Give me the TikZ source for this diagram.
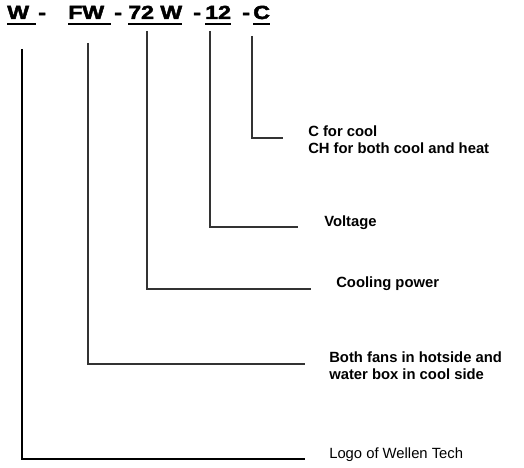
\documentclass[tikz,border=0pt]{standalone}
\usepackage{fontspec}
\setmainfont{Liberation Sans}
\newfontfamily\headfont[FakeStretch=1.22,FakeBold=2.5]{Liberation Sans}
\usetikzlibrary{calc}

\begin{document}
\begin{tikzpicture}[
    x=0.75pt, y=-0.75pt,
    head/.style={
        anchor=base west,
        inner sep=0pt,
        font=\headfont\fontsize{14.2}{16}\selectfont\bfseries
    },
    desc/.style={
        anchor=base west,
        inner sep=0pt,
        align=left,
        font=\fontsize{11.1}{12.75}\selectfont\bfseries
    },
    uline/.style={line width=1.5pt},
    lead/.style={line width=1.1pt, draw=black!80}
]
\useasboundingbox (0,0) rectangle (524,467);

% Code parts
\node[head] (w) at (7,19) {W\ \null};
\node[head] (d1) at (38,19) {-};
\node[head] (fw) at (68,19) {FW\ \null};
\node[head] (d2) at (114,19) {-};
\node[head] (power) at (128,19) {72 W};
\node[head] (d3) at (193,19) {-};
\node[head] (volt) at (205,19) {12};
\node[head] (d4) at (242,19) {-};
\node[head] (mode) at (253,19) {C};

\foreach \part in {w,fw,power,volt,mode}
    \draw[uline] ($(\part.base west)+(0,5)$) -- ($(\part.base east)+(0,5)$);

% Meanings (base = last line)
\node[desc] (mode-txt) at (308,153) {C for cool\\CH for both cool and heat};
\node[desc] (volt-txt) at (324,226) {Voltage};
\node[desc] (power-txt) at (336,287) {Cooling power};
\node[desc] (fw-txt) at (329,379) {Both fans in hotside and\\water box in cool side};
\node[desc,font=\fontsize{11.1}{12.75}\selectfont] (w-txt) at (329,458) {Logo of Wellen Tech};

% Leaders
\coordinate (w-top) at (22,49);
\coordinate (w-end) at (305,459);
\coordinate (fw-top) at (88,43);
\coordinate (fw-end) at (305,364);
\coordinate (power-top) at (147,31);
\coordinate (power-end) at (311,289);
\coordinate (volt-top) at (210,31);
\coordinate (volt-end) at (298,227);
\coordinate (mode-top) at (252,36);
\coordinate (mode-end) at (283,138);

\draw[lead, draw=black, line width=1.6pt] (w-top) |- (w-end);
\draw[lead] (fw-top) |- (fw-end);
\draw[lead] (power-top) |- (power-end);
\draw[lead] (volt-top) |- (volt-end);
\draw[lead] (mode-top) |- (mode-end);

\end{tikzpicture}
\end{document}
